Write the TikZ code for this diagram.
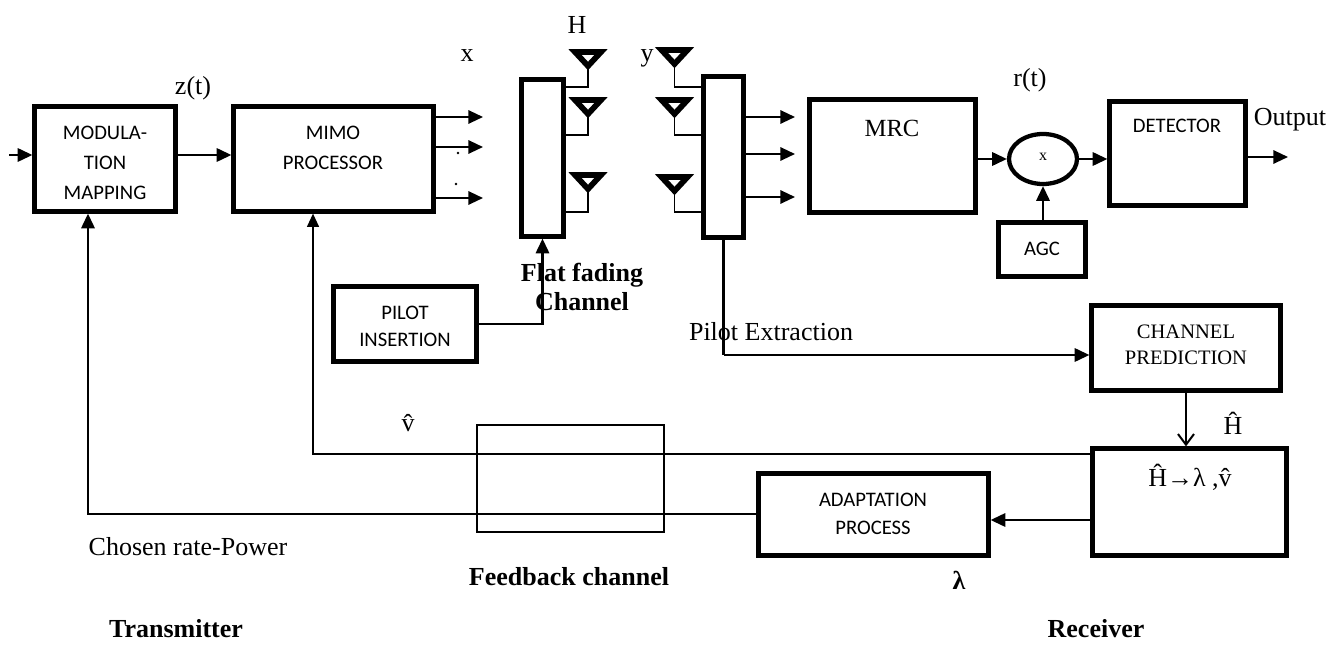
\documentclass[tikz,border=0pt]{standalone}
\usepackage{fontspec}
\setmainfont{Liberation Serif}
\newfontfamily\sansf{Carlito}
\usetikzlibrary{arrows.meta,shapes.geometric,calc}
\newdimen\pxu \pxu=0.75pt
\begin{document}
\begin{tikzpicture}[x=0.75pt,y=-0.75pt,
  blk/.style={draw,line width=3.2pt,rectangle,inner sep=0pt},
  thinblk/.style={draw,line width=1pt,rectangle,inner sep=0pt},
  stxt/.style={font=\sansf\fontsize{15.5}{22.5}\selectfont,align=center,inner sep=0pt},
  rtxt/.style={font=\fontsize{19.5}{23}\selectfont,inner sep=0pt},
  btxt/.style={font=\bfseries\fontsize{19.5}{21.75}\selectfont,inner sep=0pt,align=center},
  arr/.style={line width=1.6pt,-{Triangle[length=11pt,width=10pt]}},
  thinarr/.style={line width=1.1pt,-{Triangle[length=10pt,width=9pt]}},
  plain/.style={line width=1.6pt},
  thinline/.style={line width=1.1pt},
  stem/.style={line width=1.2pt},
  antup/.pic={\draw[line width=4.3pt,line join=miter] (-13,-14)--(13,-14)--(0,0)--cycle;}
]
\useasboundingbox (0,0) rectangle (1338,648);

% blocks
\node[blk,minimum width=141\pxu,minimum height=105\pxu] (mod) at (105,159) {};
\node[blk,minimum width=200\pxu,minimum height=105\pxu] (mimo) at (333.5,159) {};
\node[blk,minimum width=42\pxu,minimum height=157\pxu] (txbar) at (542.5,158) {};
\node[blk,minimum width=40\pxu,minimum height=161\pxu] (rxbar) at (723.5,157) {};
\node[blk,minimum width=166\pxu,minimum height=113\pxu] (mrc) at (892.5,156) {};
\node[draw,line width=3.2pt,ellipse,inner sep=0pt,minimum width=68\pxu,minimum height=50\pxu] (mult) at (1043,159) {};
\node[blk,minimum width=87\pxu,minimum height=54\pxu] (agc) at (1042,249.5) {};
\node[blk,minimum width=136\pxu,minimum height=104\pxu] (det) at (1177.5,153.5) {};
\node[blk,minimum width=143\pxu,minimum height=75\pxu] (pilot) at (405,324) {};
\node[blk,minimum width=189\pxu,minimum height=85\pxu] (cp) at (1186,348) {};
\node[blk,minimum width=194\pxu,minimum height=107\pxu] (hbox) at (1189.5,502) {};
\node[blk,minimum width=230\pxu,minimum height=82\pxu] (adapt) at (873.5,514.5) {};
\node[thinblk,minimum width=187\pxu,minimum height=107\pxu] (fb) at (570.5,478.5) {};

% block texts
\node[stxt] (tmod) at (105,163) {MODULA-\\TION\\MAPPING};
\node[stxt] (tmimo) at (333,148) {MIMO\\PROCESSOR};
\node[font=\fontsize{18.5}{22}\selectfont,inner sep=0pt] (tmrc) at (892,128) {MRC};
\node[font=\fontsize{12}{14}\selectfont,inner sep=0pt] (tx) at (1043,157) {x};
\node[stxt] (tagc) at (1042,249) {AGC};
\node[stxt] (tdet) at (1177,126) {DETECTOR};
\node[stxt,font=\sansf\fontsize{15.5}{20.3}\selectfont] (tpilot) at (405,326.5) {PILOT\\INSERTION};
\node[font=\fontsize{15.4}{19.5}\selectfont,align=center,inner sep=0pt] (tcp) at (1186,345) {CHANNEL\\PREDICTION};
\node[rtxt] (thbox) at (1190,477) {Ĥ→λ ,\^{v}};
\node[stxt,font=\sansf\fontsize{15.5}{21}\selectfont] (tadapt) at (873,514) {ADAPTATION\\PROCESS};

% labels
\node[rtxt] (lH) at (577,25) {H};
\node[rtxt] (lx) at (467,56) {x};
\node[rtxt] (ly) at (647,58) {y};
\node[rtxt] (lz) at (193,88) {z(t)};
\node[rtxt] (lr) at (1030,80) {r(t)};
\node[rtxt] (lout) at (1290,120) {Output};
\node[btxt] (lflat) at (582,287) {Flat fading\\Channel};
\node[rtxt] (lpe) at (771,332) {Pilot Extraction};
\node[rtxt] (lv) at (408,423) {\^{v}};
\node[rtxt] (lHh) at (1233,423) {Ĥ};
\node[rtxt] (lcr) at (188,547) {Chosen rate-Power};
\node[btxt] (lfb) at (569,577) {Feedback channel};
\node[btxt] (llam) at (959,580) {λ};
\node[btxt] (ltx) at (176,629) {Transmitter};
\node[btxt] (lrx) at (1096,629) {Receiver};

% input and MOD -> MIMO
\coordinate (in) at (9,155);
\draw[arr] (in) -- (in -| mod.west);
\draw[arr] (mod.east |- in) -- (mimo.west |- in);

% MIMO outputs
\coordinate (x1) at (483,117);
\coordinate (x2) at (483,147);
\coordinate (x3) at (483,198);
\draw[arr] (x1 -| mimo.east) -- (x1);
\draw[arr] (x2 -| mimo.east) -- (x2);
\draw[arr] (x3 -| mimo.east) -- (x3);
\fill (458,153) circle (1.4);
\fill (456,184) circle (1.4);

% Tx antennas
\foreach \i/\yb/\yt in {1/87/66, 2/135/114, 3/212/189} {
  \coordinate (ta\i) at (588,\yb);
  \coordinate (tt\i) at (588,\yt);
  \pic at (tt\i) {antup};
  \draw[stem] (txbar.east |- ta\i) -- (ta\i) -- (tt\i);
}
% Rx antennas
\foreach \i/\yb/\yt in {1/87/64, 2/135/114, 3/212/191} {
  \coordinate (ra\i) at (674.5,\yb);
  \coordinate (rt\i) at (674.5,\yt);
  \pic at (rt\i) {antup};
  \draw[stem] (rxbar.west |- ra\i) -- (ra\i) -- (rt\i);
}

% Rx bar -> MRC
\coordinate (y1) at (795,117);
\coordinate (y2) at (795,154);
\coordinate (y3) at (795,197);
\draw[arr] (y1 -| rxbar.east) -- (y1);
\draw[arr] (y2 -| rxbar.east) -- (y2);
\draw[arr] (y3 -| rxbar.east) -- (y3);

% MRC -> mult -> detector -> output
\draw[arr] (mrc.east |- mult.west) -- (mult.west);
\draw[arr] (mult.east) -- (mult.east -| det.west);
\draw[arr] (mult.south |- agc.north) -- (mult.south);
\coordinate (out) at (1288,157);
\draw[arr] (det.east |- out) -- (out);

% pilot insertion -> channel
\draw[plain,-{Triangle[length=11pt,width=10pt]}] (pilot.east) -| (txbar.south);

% pilot extraction -> channel prediction
\coordinate (pe) at (723.5,355);
\draw[plain] (rxbar.south) -- (pe);
\draw[arr] (pe) -- (pe -| cp.west);

% channel prediction -> hbox
\draw[line width=1.5pt,-{Straight Barb[length=8pt,width=12pt]}] (cp.south) -- (cp.south |- hbox.north);

% v-hat feedback to MIMO
\coordinate (vl) at (313,454);
\draw[thinarr] (vl -| hbox.west) -- (vl) -- (vl |- mimo.south);

% hbox -> adaptation
\coordinate (la) at (990,520);
\draw[arr] (la -| hbox.west) -- (la -| adapt.east);

% adaptation -> modulation
\coordinate (cr) at (88,514);
\draw[arr] (cr -| adapt.west) -- (cr) -- (cr |- mod.south);
\end{tikzpicture}
\end{document}
